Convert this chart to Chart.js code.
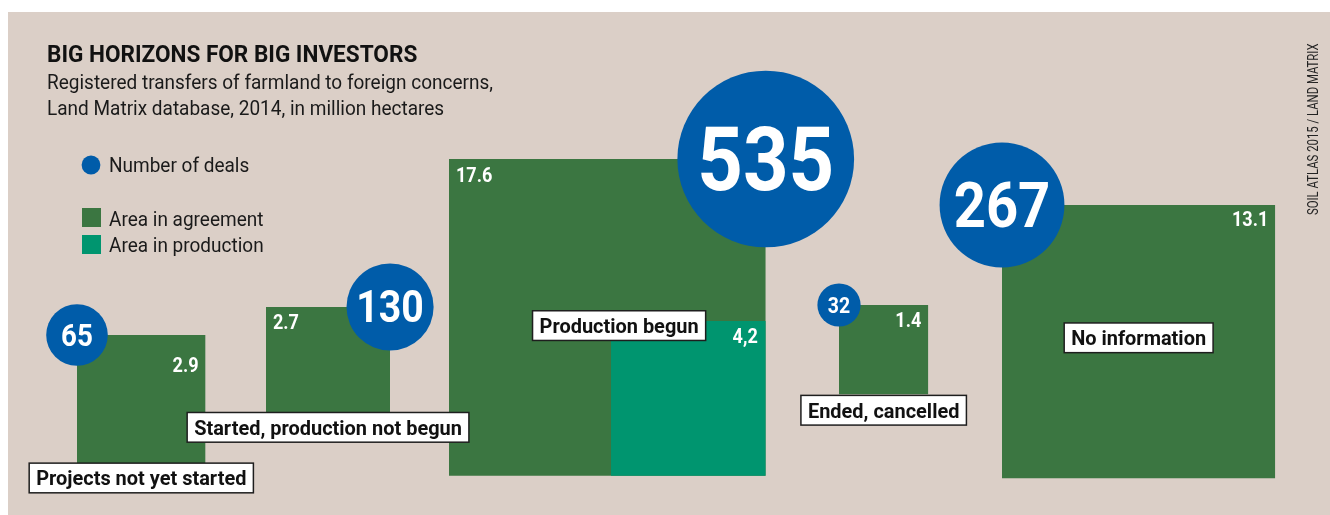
<!DOCTYPE html>
<html><head><meta charset="utf-8">
<script src="https://cdn.jsdelivr.net/npm/chart.js@4.4.1/dist/chart.umd.min.js"></script>
<style>
html,body{margin:0;padding:0;background:#fff;}
canvas{display:block;}
</style></head>
<body><canvas id="c" width="1330" height="515"></canvas>
<script>
// ---------------- data ----------------
const categories = ['Projects not yet started', 'Started, production not begun', 'Production begun', 'Ended, cancelled', 'No information'];
const areaAgreement = [2.9, 2.7, 17.6, 1.4, 13.1];     // million hectares
const areaProduction = [null, null, 4.2, null, null];  // million hectares
const numberOfDeals = [65, 130, 535, 32, 267];

const titleText = 'BIG HORIZONS FOR BIG INVESTORS';
const subtitleLines = ['Registered transfers of farmland to foreign concerns,', 'Land Matrix database, 2014, in million hectares'];
const legendLabels = ['Number of deals', 'Area in agreement', 'Area in production'];
const sourceText = 'SOIL ATLAS 2015 / LAND MATRIX';

// ---------------- layout & style ----------------
const squareLeft = [77, 266, 449, 839, 1002];   // chart units (x)
const squareTop = [335, 307, 159, 305, 205];    // chart units (y, downward)
const circleCorner = ['left', 'right', 'right', 'left', 'left'];
const valueAlign = ['right', 'left', 'left', 'right', 'right'];
const valueDy = [37, 22, 23, 22, 21];
const labelAnchor = [[0.5, 1.112], [0.5, 0.97], [0.537, 0.526], [0.5, 1.178], [0.5, 0.486]];
const SIDE_PER_SQRT = 75.5;   // square side per sqrt(million ha)
const RADIUS_PER_SQRT = 3.82; // circle radius (px) per sqrt(deals)

const BEIGE = '#dbcfc7', GREEN = '#3b7641', TEAL = '#00956f', BLUE = '#005ca9';
const FONT = 'Roboto, "Liberation Sans", sans-serif';

// ---------------- build datasets ----------------
const geo = categories.map((c, i) => {
  const s = SIDE_PER_SQRT * Math.sqrt(areaAgreement[i]);
  const g = { x0: squareLeft[i], y0: squareTop[i], s: s, x1: squareLeft[i] + s, y1: squareTop[i] + s };
  if (areaProduction[i] != null) {
    const p = SIDE_PER_SQRT * Math.sqrt(areaProduction[i]);
    g.prod = { x0: g.x1 - p, x1: g.x1, y0: g.y1 - p, y1: g.y1 };
  }
  return g;
});

const datasets = [];
geo.forEach((g, i) => {
  datasets.push({
    type: 'line', label: categories[i] + ' – area in agreement',
    data: [{ x: g.x0, y: g.y0 }, { x: g.x1, y: g.y0 }],
    fill: { value: g.y1 }, backgroundColor: GREEN, borderColor: 'rgba(0,0,0,0)',
    borderWidth: 0, pointRadius: 0, order: 3
  });
  if (g.prod) {
    datasets.push({
      type: 'line', label: categories[i] + ' – area in production',
      data: [{ x: g.prod.x0, y: g.prod.y0 }, { x: g.prod.x1, y: g.prod.y0 }],
      fill: { value: g.prod.y1 }, backgroundColor: TEAL, borderColor: 'rgba(0,0,0,0)',
      borderWidth: 0, pointRadius: 0, order: 2
    });
  }
});
datasets.push({
  type: 'bubble', label: 'Number of deals',
  data: geo.map((g, i) => ({
    x: circleCorner[i] === 'left' ? g.x0 : g.x1,
    y: g.y0,
    r: RADIUS_PER_SQRT * Math.sqrt(numberOfDeals[i])
  })),
  backgroundColor: BLUE, borderWidth: 0, hoverRadius: 0, order: 1
});

// ---------------- drawing helpers ----------------
function drawText(ctx, s, x, y, font, color, align, squeeze) {
  ctx.save();
  ctx.font = font; ctx.fillStyle = color; ctx.textAlign = align; ctx.textBaseline = 'alphabetic';
  ctx.translate(x, y); ctx.scale(squeeze, 1);
  ctx.fillText(s, 0, 0);
  ctx.restore();
}
function textWidth(ctx, s, font, squeeze) {
  ctx.save(); ctx.font = font; const w = ctx.measureText(s).width * squeeze; ctx.restore(); return w;
}

const panelPlugin = {
  id: 'panel',
  beforeDraw(chart) {
    const ctx = chart.ctx;
    ctx.save();
    ctx.fillStyle = '#ffffff';
    ctx.fillRect(0, 0, chart.width, chart.height);
    ctx.fillStyle = BEIGE;
    ctx.fillRect(8, 12, chart.width - 8, chart.height - 12);
    ctx.restore();
  }
};

const labelPlugin = {
  id: 'labels',
  afterDatasetsDraw(chart) {
    const ctx = chart.ctx, X = chart.scales.x, Y = chart.scales.y;
    const px = v => X.getPixelForValue(v), py = v => Y.getPixelForValue(v);
    const valFont = 'bold 21px ' + FONT;
    const PAD = 7;

    // value labels inside squares
    geo.forEach((g, i) => {
      const txt = areaAgreement[i].toFixed(1);
      const x = valueAlign[i] === 'left' ? px(g.x0) + PAD : px(g.x1) - PAD;
      drawText(ctx, txt, x, py(g.y0) + valueDy[i], valFont, '#ffffff', valueAlign[i], 0.86);
      if (g.prod) {
        const t2 = areaProduction[i].toFixed(1).replace('.', ',');
        drawText(ctx, t2, px(g.prod.x1) - PAD - 1, py(g.prod.y0) + 22, valFont, '#ffffff', 'right', 0.86);
      }
    });

    // numbers in circles
    const bubbleMeta = chart.getDatasetMeta(chart.data.datasets.length - 1);
    bubbleMeta.data.forEach((el, i) => {
      const r = el.options.radius;
      const size = r * 1.0;
      drawText(ctx, String(numberOfDeals[i]), el.x, el.y + 0.711 * size / 2, 'bold ' + size.toFixed(1) + 'px ' + FONT, '#ffffff', 'center', 0.9);
    });

    // category label boxes
    const catFont = 'bold 21px ' + FONT;
    geo.forEach((g, i) => {
      const tw = textWidth(ctx, categories[i], catFont, 0.95);
      const bw = tw + 14, bh = 29.7;
      const cx = px(g.x0 + labelAnchor[i][0] * g.s);
      const cy = py(g.y0 + labelAnchor[i][1] * g.s);
      const bx = cx - bw / 2, by = cy - bh / 2;
      ctx.save();
      ctx.fillStyle = '#ffffff';
      ctx.fillRect(bx, by, bw, bh);
      ctx.strokeStyle = '#1e1e1e'; ctx.lineWidth = 1.5;
      ctx.strokeRect(bx, by, bw, bh);
      ctx.restore();
      drawText(ctx, categories[i], bx + 7, by + 22.3, catFont, '#111111', 'left', 0.95);
    });
  },
  afterDraw(chart) {
    const ctx = chart.ctx;
    // title & subtitle
    drawText(ctx, titleText, 47, 62, 'bold 24px ' + FONT, '#111111', 'left', 0.94);
    drawText(ctx, subtitleLines[0], 47, 89, '20px ' + FONT, '#1a1a1a', 'left', 0.95);
    drawText(ctx, subtitleLines[1], 47, 115, '20px ' + FONT, '#1a1a1a', 'left', 0.95);

    // legend
    ctx.save();
    ctx.fillStyle = BLUE;
    ctx.beginPath(); ctx.arc(91, 165, 9.4, 0, Math.PI * 2); ctx.fill();
    ctx.fillStyle = GREEN; ctx.fillRect(82, 208, 19, 19);
    ctx.fillStyle = TEAL; ctx.fillRect(82, 235, 19, 19);
    ctx.restore();
    const lf = '20px ' + FONT;
    drawText(ctx, legendLabels[0], 109, 171.5, lf, '#1a1a1a', 'left', 0.95);
    drawText(ctx, legendLabels[1], 109, 225.5, lf, '#1a1a1a', 'left', 0.95);
    drawText(ctx, legendLabels[2], 109, 251.5, lf, '#1a1a1a', 'left', 0.95);

    // source (vertical)
    ctx.save();
    ctx.translate(1318.3, 215);
    ctx.rotate(-Math.PI / 2);
    ctx.scale(0.81, 1);
    ctx.font = '14px ' + FONT; ctx.fillStyle = '#222222'; ctx.textAlign = 'left'; ctx.textBaseline = 'alphabetic';
    ctx.fillText(sourceText, 0, 0);
    ctx.restore();
  }
};

new Chart(document.getElementById('c'), {
  type: 'scatter',
  data: { datasets: datasets },
  options: {
    responsive: false, animation: false, events: [], devicePixelRatio: 1,
    layout: { padding: 0, autoPadding: false },
    plugins: { legend: { display: false }, tooltip: { enabled: false }, title: { display: false } },
    scales: {
      x: { type: 'linear', min: 0, max: 1330, display: false },
      y: { type: 'linear', min: 0, max: 515, reverse: true, display: false }
    }
  },
  plugins: [panelPlugin, labelPlugin]
});
</script>
</body></html>
